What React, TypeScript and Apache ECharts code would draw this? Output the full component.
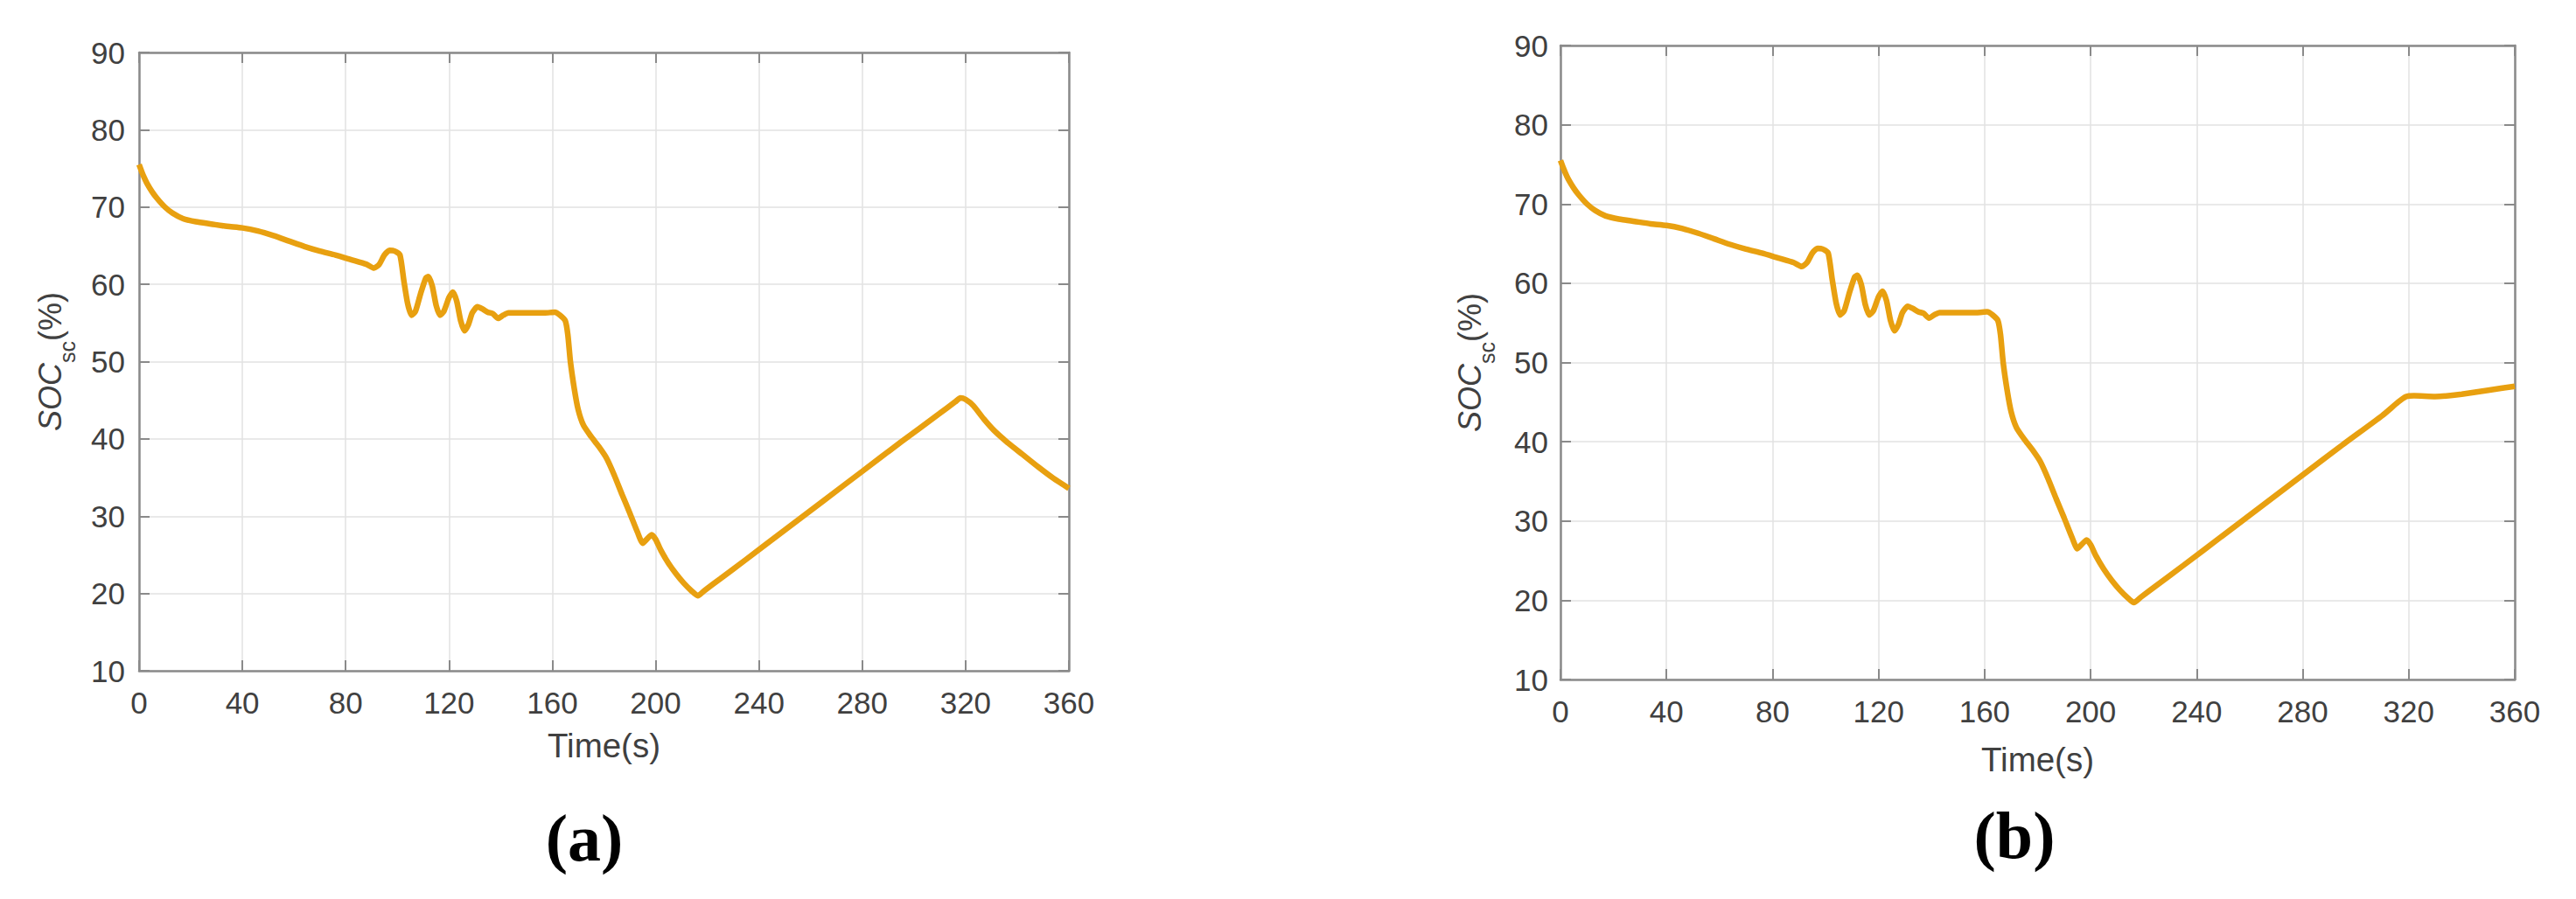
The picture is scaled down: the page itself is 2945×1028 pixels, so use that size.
import React, { useEffect, useRef } from "react";
import * as echarts from "echarts";

// ---- data (time in s, SOC of supercapacitor in %) ----
const timeCommon = [
  0, 1, 2, 3, 5, 7, 10, 13, 17, 22, 28, 34, 40, 46, 52, 58, 64, 70, 76, 82, 88, 91,
  93, 95, 97, 99, 101, 102.5, 104, 105.5, 107, 109, 111, 112, 113.5, 115, 116.5, 118,
  120, 121.5, 123, 124.5, 126, 127.5, 129, 131, 133, 135, 137, 139, 141, 143, 150, 157,
  161, 163, 165, 166, 167, 168.5, 170, 172, 175, 178, 181, 184, 187, 190, 193, 195,
  196.5, 198.5, 200, 202, 205, 208, 211, 214, 216.3, 219, 225, 235, 250, 265, 280, 295,
  310,
];
const socCommon = [
  75.5, 74.6, 73.8, 73.1, 72.0, 71.1, 70.0, 69.2, 68.5, 68.1, 67.8, 67.5, 67.3, 66.9,
  66.3, 65.6, 64.9, 64.3, 63.8, 63.2, 62.6, 62.1, 62.6, 63.8, 64.4, 64.3, 63.8, 60.5,
  57.5, 56.0, 56.5, 58.8, 60.8, 61.0, 59.8, 57.3, 56.0, 56.5, 58.3, 59.0, 57.8, 55.3,
  54.0, 54.8, 56.3, 57.1, 56.8, 56.4, 56.2, 55.6, 56.0, 56.3, 56.3, 56.3, 56.4, 56.0,
  55.3, 53.5, 50.0, 46.5, 43.8, 41.8, 40.3, 39.0, 37.5, 35.3, 32.8, 30.4, 27.9, 26.5,
  27.0, 27.6, 27.0, 25.6, 23.9, 22.5, 21.3, 20.3, 19.7, 20.4, 21.9, 24.4, 28.2, 32.0,
  35.8, 39.6, 43.3,
];
const timeTailA = [316, 318, 320, 323, 327, 331, 336, 342, 348, 354, 360];
const socTailA = [44.8, 45.3, 45.1, 44.3, 42.6, 41.1, 39.6, 38.0, 36.4, 34.9, 33.6];
const timeTailB = [316, 319, 322, 330, 335, 340, 350, 360];
const socTailB = [45.0, 45.7, 45.8, 45.7, 45.8, 46.0, 46.5, 47.0];

const xTickInterval = 40;
const yTickInterval = 10;
const xMin = 0, xMax = 360, yMin = 10, yMax = 90;
const xAxisName = "Time(s)";
const panelLabels = ["(a)", "(b)"];

// ---- styles ----
const LINE = "#E8A010";
const AX = "#8a8a8a";
const GRID = "#e2e2e2";
const TXT = "#404040";
const FONT = "'Liberation Sans', Arial, Helvetica, sans-serif";

const pairs = (ts: number[], vs: number[]) => ts.map((t, i) => [t, vs[i]]);
const dataA = pairs(timeCommon.concat(timeTailA), socCommon.concat(socTailA));
const dataB = pairs(timeCommon.concat(timeTailB), socCommon.concat(socTailB));

const grids = [
  { left: 159, top: 60, width: 1063, height: 707 },
  { left: 1784, top: 52, width: 1091, height: 725 },
];
const xNameGaps = [66, 72];
const yNameGaps = [70, 72];
const labelPos = [
  [668, 958],
  [2303, 955],
];

function xAxes(g: number) {
  const common = {
    type: "value",
    gridIndex: g,
    min: xMin,
    max: xMax,
    interval: xTickInterval,
    axisLine: { show: true, onZero: false, lineStyle: { color: AX, width: 2.5 } },
    axisTick: { show: true, inside: true, length: 12, lineStyle: { color: AX, width: 2 } },
  };
  return [
    {
      ...common,
      position: "bottom",
      axisLabel: { color: TXT, fontSize: 35, fontFamily: FONT, margin: 19 },
      splitLine: { show: true, lineStyle: { color: GRID, width: 1.5 } },
      name: xAxisName,
      nameLocation: "middle",
      nameGap: xNameGaps[g],
      nameTextStyle: { color: TXT, fontSize: 38.5, fontFamily: FONT },
    },
    {
      ...common,
      position: "top",
      axisLabel: { show: false },
      splitLine: { show: false },
    },
  ];
}

function yAxes(g: number) {
  const common = {
    type: "value",
    gridIndex: g,
    min: yMin,
    max: yMax,
    interval: yTickInterval,
    axisLine: { show: true, onZero: false, lineStyle: { color: AX, width: 2.5 } },
    axisTick: { show: true, inside: true, length: 12, lineStyle: { color: AX, width: 2 } },
  };
  return [
    {
      ...common,
      position: "left",
      axisLabel: { color: TXT, fontSize: 35, fontFamily: FONT, margin: g === 0 ? 16 : 14 },
      splitLine: { show: true, lineStyle: { color: GRID, width: 1.5 } },
      name: "{i|SOC}{s|sc}{n|(%)}",
      nameLocation: "middle",
      nameGap: yNameGaps[g],
      nameTextStyle: {
        color: TXT,
        fontFamily: FONT,
        rich: {
          i: { fontSize: 36, fontStyle: "italic", fontFamily: FONT, color: TXT, lineHeight: 64, verticalAlign: "middle" },
          s: { fontSize: 25, fontFamily: FONT, color: TXT, lineHeight: 25, verticalAlign: "bottom" },
          n: { fontSize: 36, fontFamily: FONT, color: TXT, lineHeight: 64, verticalAlign: "middle" },
        },
      },
    },
    {
      ...common,
      position: "right",
      axisLabel: { show: false },
      splitLine: { show: false },
    },
  ];
}

export default function App() {
  const ref = useRef<HTMLDivElement>(null);
  useEffect(() => {
    if (!ref.current) return;
    const chart = echarts.init(ref.current, undefined, { renderer: "svg" });
    chart.setOption({
      animation: false,
      backgroundColor: "#ffffff",
      grid: grids.map((g) => ({ ...g, containLabel: false })),
      xAxis: [...xAxes(0), ...xAxes(1)],
      yAxis: [...yAxes(0), ...yAxes(1)],
      series: [
        {
          type: "line",
          xAxisIndex: 0,
          yAxisIndex: 0,
          data: dataA,
          showSymbol: false,
          smooth: 0.2,
          lineStyle: { color: LINE, width: 6.5 },
          z: 5,
        },
        {
          type: "line",
          xAxisIndex: 2,
          yAxisIndex: 2,
          data: dataB,
          showSymbol: false,
          smooth: 0.2,
          lineStyle: { color: LINE, width: 6.5 },
          z: 5,
        },
      ],
      graphic: panelLabels.map((t, i) => ({
        type: "text",
        x: labelPos[i][0],
        y: labelPos[i][1],
        style: {
          text: t,
          fill: "#000000",
          font: "bold 76px 'Liberation Serif', 'Times New Roman', serif",
          textAlign: "center",
          textVerticalAlign: "middle",
        },
      })),
    });
    return () => chart.dispose();
  }, []);
  return (
    <div
      ref={ref}
      style={{ position: "absolute", left: 0, top: 0, width: 2945, height: 1028, background: "#fff" }}
    />
  );
}
